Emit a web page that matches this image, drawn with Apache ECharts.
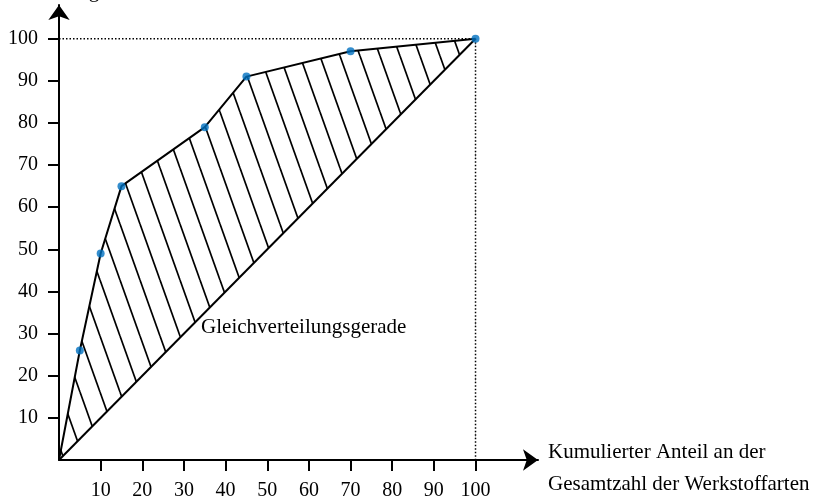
<!DOCTYPE html>
<html>
<head>
<meta charset="utf-8">
<script src="https://cdn.jsdelivr.net/npm/echarts@6/dist/echarts.min.js"></script>
<style>
html,body{margin:0;padding:0;background:#fff;}
#chart{width:816px;height:501px;}
</style>
</head>
<body>
<div id="chart"></div>
<script>
// ---- data ----
const lorenzX = [0, 5, 10, 15, 35, 45, 70, 100];
const lorenzY = [0, 26, 49, 65, 79, 91, 97, 100];
const pointX = [5, 10, 15, 35, 45, 70, 100];
const pointY = [26, 49, 65, 79, 91, 97, 100];
const diagX = [0, 100];
const diagY = [0, 100];
const guideX = [0, 100, 100];
const guideY = [100, 100, 0];
const xTicks = [10, 20, 30, 40, 50, 60, 70, 80, 90, 100];
const yTicks = [10, 20, 30, 40, 50, 60, 70, 80, 90, 100];
const lineLabel = 'Gleichverteilungsgerade';
const lineLabelPos = [34, 31.5];
const xNameLines = ['Kumulierter Anteil an der', 'Gesamtzahl der Werkstoffarten'];
const yName = 'Anteil am gesamten Verbrauchswert';

const FONT = "'Liberation Serif', 'Times New Roman', serif";

// hatch pattern
const pc = document.createElement('canvas');
pc.width = 20; pc.height = 56;
const g = pc.getContext('2d');
g.fillStyle = '#fff'; g.fillRect(0, 0, 20, 56);
g.strokeStyle = '#000'; g.lineWidth = 1.7;
[[-20, 0], [0, 0], [20, 0]].forEach(([ox]) => {
  g.beginPath(); g.moveTo(ox, 0); g.lineTo(ox + 20, 56); g.stroke();
});

const zip = (a, b) => a.map((v, i) => [v, b[i]]);

const axisCommon = {
  type: 'value',
  min: 0,
  interval: 10,
  z: 10,
  splitLine: { show: false },
  axisLine: {
    show: true,
    symbol: ['none', 'arrow'],
    symbolSize: [16, 15],
    lineStyle: { color: '#000', width: 2 }
  },
  axisTick: { show: true, inside: false, length: 11, lineStyle: { color: '#000', width: 2 } },
  axisLabel: { color: '#000', fontFamily: FONT, fontSize: 20 }
};

const chart = echarts.init(document.getElementById('chart'), null, { renderer: 'canvas' });
chart.setOption({
  animation: false,
  backgroundColor: '#fff',
  grid: { left: 59, right: 278, top: 5, bottom: 38, containLabel: false },
  xAxis: Object.assign({}, axisCommon, {
    max: 115,
    axisTick: Object.assign({}, axisCommon.axisTick, { customValues: xTicks }),
    axisLabel: Object.assign({}, axisCommon.axisLabel, { customValues: xTicks, margin: 21 }),
    name: '{s| }\n{a|' + xNameLines[0] + '}\n{a|' + xNameLines[1] + '}',
    nameLocation: 'end',
    nameGap: 10,
    nameTextStyle: {
      color: '#000', fontFamily: FONT, fontSize: 21, align: 'left', verticalAlign: 'middle',
      rich: {
        s: { fontSize: 4, lineHeight: 16 },
        a: { color: '#000', fontFamily: FONT, fontSize: 21, lineHeight: 32 }
      }
    }
  }),
  yAxis: Object.assign({}, axisCommon, {
    max: 108,
    axisTick: Object.assign({}, axisCommon.axisTick, { customValues: yTicks }),
    axisLabel: Object.assign({}, axisCommon.axisLabel, { customValues: yTicks, margin: 21 })
  }),
  graphic: [{
    type: 'text', left: 0, top: -19, z: 100,
    style: { text: yName, fill: '#000', font: '21px ' + FONT }
  }],
  series: [
    {
      type: 'line', name: 'Lorenzkurve', data: zip(lorenzX, lorenzY),
      symbol: 'none', z: 2,
      lineStyle: { color: '#000', width: 2 },
      areaStyle: { color: { image: pc, repeat: 'repeat' }, opacity: 1 }
    },
    {
      type: 'line', name: 'Gleichverteilung', data: zip(diagX, diagY),
      symbol: 'none', z: 3,
      lineStyle: { color: '#000', width: 2 },
      areaStyle: { color: '#fff', opacity: 1 },
      markPoint: {
        symbol: 'circle', symbolSize: 1,
        itemStyle: { color: 'rgba(0,0,0,0)' },
        label: { show: true, position: 'right', distance: 0, formatter: lineLabel,
                 color: '#000', fontFamily: FONT, fontSize: 21 },
        data: [{ coord: lineLabelPos }]
      }
    },
    {
      type: 'line', name: 'guide', data: zip(guideX, guideY),
      symbol: 'none', z: 4,
      lineStyle: { color: '#000', width: 1.5, type: [1.5, 2] }
    },
    {
      type: 'scatter', name: 'Punkte', data: zip(pointX, pointY),
      symbolSize: 8, z: 6,
      itemStyle: { color: '#0070C0' }
    }
  ]
});
</script>
</body>
</html>
